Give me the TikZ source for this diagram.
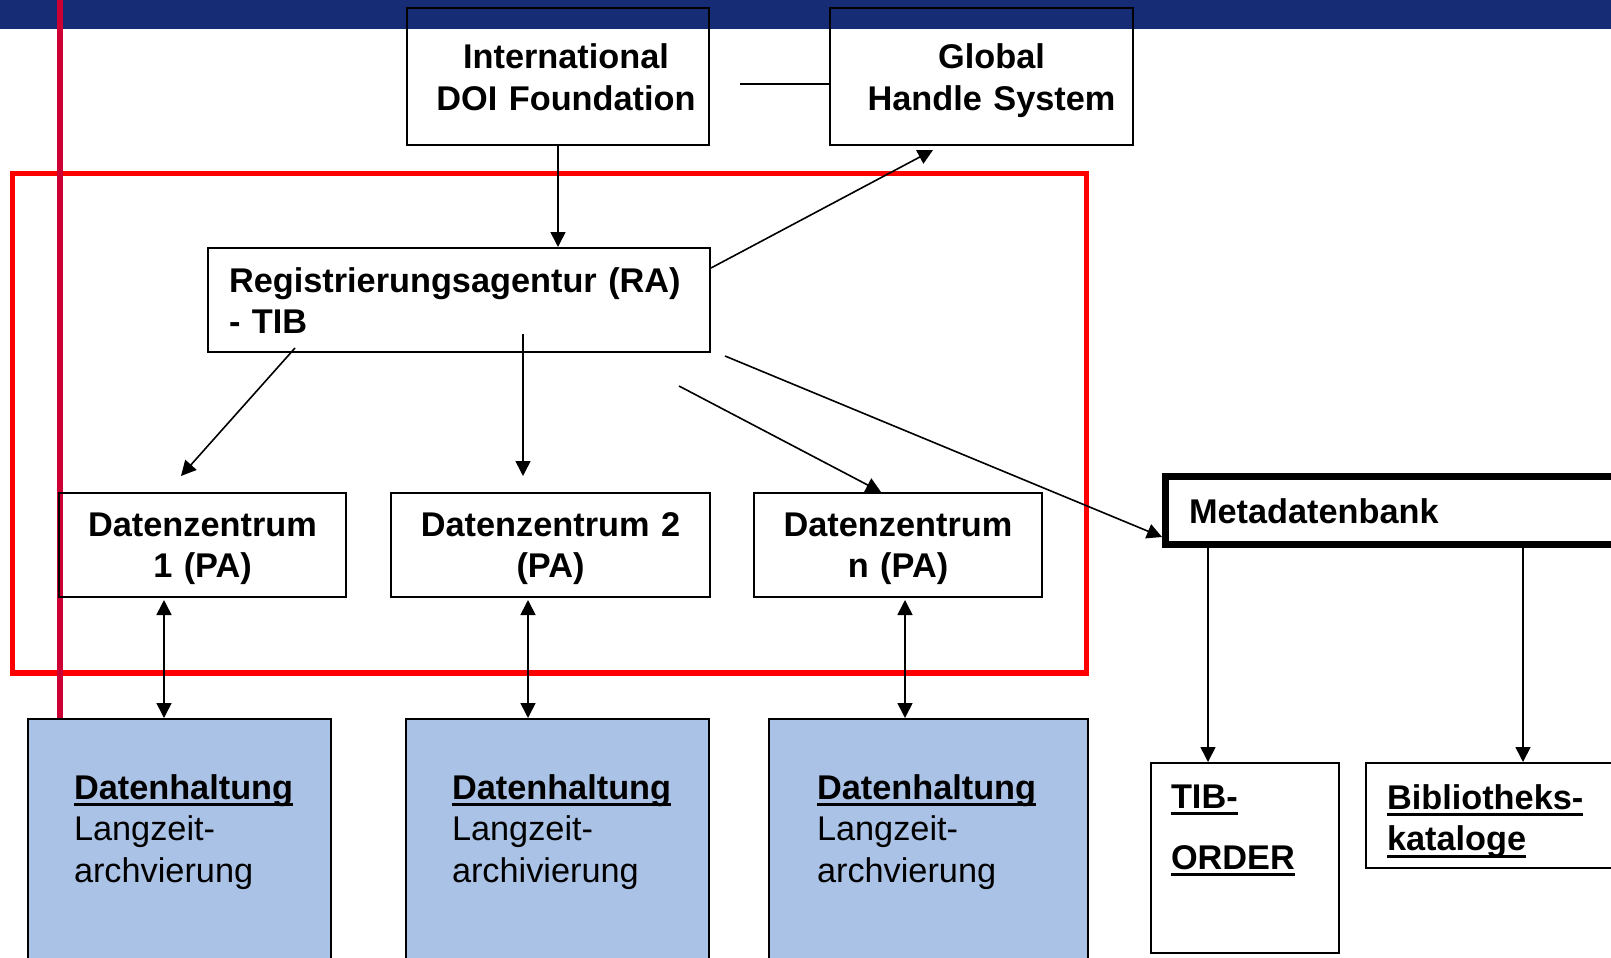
\documentclass[tikz,border=0pt]{standalone}
\usepackage{fontspec}
\setmainfont{Liberation Sans}
\usetikzlibrary{arrows.meta}
\definecolor{balken}{RGB}{22,45,118}
\definecolor{linie}{RGB}{204,0,51}
\definecolor{speicher}{RGB}{170,194,229}
\newcommand{\strich}[1]{\leavevmode\setbox0=\hbox{#1}\rlap{\rule[-7pt]{\wd0}{2.6pt}}\box0}
\hfuzz=30pt
\tikzset{
  kasten/.style={draw, line width=2pt, anchor=north west, inner ysep=0pt,
    font=\fontsize{34.3}{41.5}\selectfont\bfseries},
  pfeil/.style={line width=1.6pt, -{Triangle[length=15pt,width=15pt]}},
  dpfeil/.style={line width=1.6pt, {Triangle[length=15pt,width=15pt]}-{Triangle[length=15pt,width=15pt]}},
}
\begin{document}
\begin{tikzpicture}[x=1pt,y=-1pt]
\useasboundingbox (0,0) rectangle (1611,958);
\fill[balken] (0,0) rectangle (1611,29);
\draw[red, line width=5.5pt] (12.5,173.5) rectangle (1086.5,673);
\draw[linie, line width=6pt] (60,0) -- (60,718);

\node[kasten, align=center, text width=282pt, inner xsep=10pt, text height=61pt, text depth=76pt] (doi) at (406,7) {\hspace*{16pt}International\\\hspace*{16pt}DOI Foundation};
\node[kasten, align=center, text width=283pt, inner xsep=10pt, text height=61pt, text depth=76pt] (ghs) at (829,7) {\hspace*{20pt}Global\\\hspace*{20pt}Handle System};
\node[kasten, align=left, text width=460pt, inner xsep=21pt, text height=44pt, text depth=60pt] (ra) at (207,247) {Registrierungsagentur (RA)\\- TIB};

\node[kasten, align=center, text width=267pt, inner xsep=10pt, text height=43pt, text depth=61pt] (dz1) at (58,492) {Datenzentrum\\1 (PA)};
\node[kasten, align=center, text width=299pt, inner xsep=10pt, text height=43pt, text depth=61pt] (dz2) at (390,492) {Datenzentrum 2\\(PA)};
\node[kasten, align=center, text width=268pt, inner xsep=10pt, text height=43pt, text depth=61pt] (dzn) at (753,492) {Datenzentrum\\n (PA)};

\node[kasten, fill=speicher, align=left, text width=211pt, inner xsep=46pt, text height=80pt, text depth=300pt] (dh1) at (27,718) {\strich{Datenhaltung}\\\mdseries Langzeit-\\archvierung};
\node[kasten, fill=speicher, align=left, text width=211pt, inner xsep=46pt, text height=80pt, text depth=300pt] (dh2) at (405,718) {\strich{Datenhaltung}\\\mdseries Langzeit-\\archivierung};
\node[kasten, fill=speicher, align=left, text width=223pt, inner xsep=48pt, text height=80pt, text depth=300pt] (dh3) at (768,718) {\strich{Datenhaltung}\\\mdseries Langzeit-\\archvierung};

\node[kasten, line width=7pt, align=left, text width=500pt, inner xsep=23.5pt, text height=46.5pt, text depth=21.5pt] (meta) at (1162,473) {Metadatenbank};
\node[kasten, align=left, text width=148pt, inner xsep=20pt, text height=45pt, text depth=145pt] (tib) at (1150,762) {\strich{TIB-}\\[19.5pt]\strich{ORDER}};
\node[kasten, align=left, text width=293pt, inner xsep=21pt, text height=46pt, text depth=59pt] (bib) at (1365,762) {\strich{Bibliotheks-}\\\strich{kataloge}};

\draw[pfeil] (doi.south) -- (doi.south |- ra.north);
\draw[line width=1.6pt] ([xshift=30pt,yshift=-7.5pt]doi.east) -- ([yshift=-7.5pt]ghs.west);
\draw[pfeil] ([yshift=-21pt]ra.north east) -- ([xshift=-48.5pt,yshift=-4pt]ghs.south);
\draw[pfeil] ([xshift=88pt,yshift=5pt]ra.south west) -- ([xshift=-21.5pt,yshift=16pt]dz1.north);
\draw[pfeil] ([xshift=64pt,yshift=19pt]ra.south) -- ([xshift=-27.5pt,yshift=16pt]dz2.north);
\draw[pfeil] ([xshift=-32pt,yshift=-33pt]ra.south east) -- ([xshift=-17pt]dzn.north);
\draw[pfeil] ([xshift=14pt,yshift=-3pt]ra.south east) -- ([yshift=11pt]meta.south west);

\draw[dpfeil] ([xshift=-38.5pt,yshift=-2pt]dz1.south) -- ([xshift=-15.5pt]dh1.north);
\draw[dpfeil] ([xshift=-22.5pt,yshift=-2pt]dz2.south) -- ([xshift=-29.5pt]dh2.north);
\draw[dpfeil] ([xshift=7pt,yshift=-2pt]dzn.south) -- ([xshift=-23.5pt]dh3.north);

\draw[pfeil] ([xshift=46pt]meta.south west) -- ([xshift=-37pt]tib.north);
\draw[pfeil] ([xshift=361pt]meta.south west) -- ([xshift=-10.5pt]bib.north);
\end{tikzpicture}
\end{document}
